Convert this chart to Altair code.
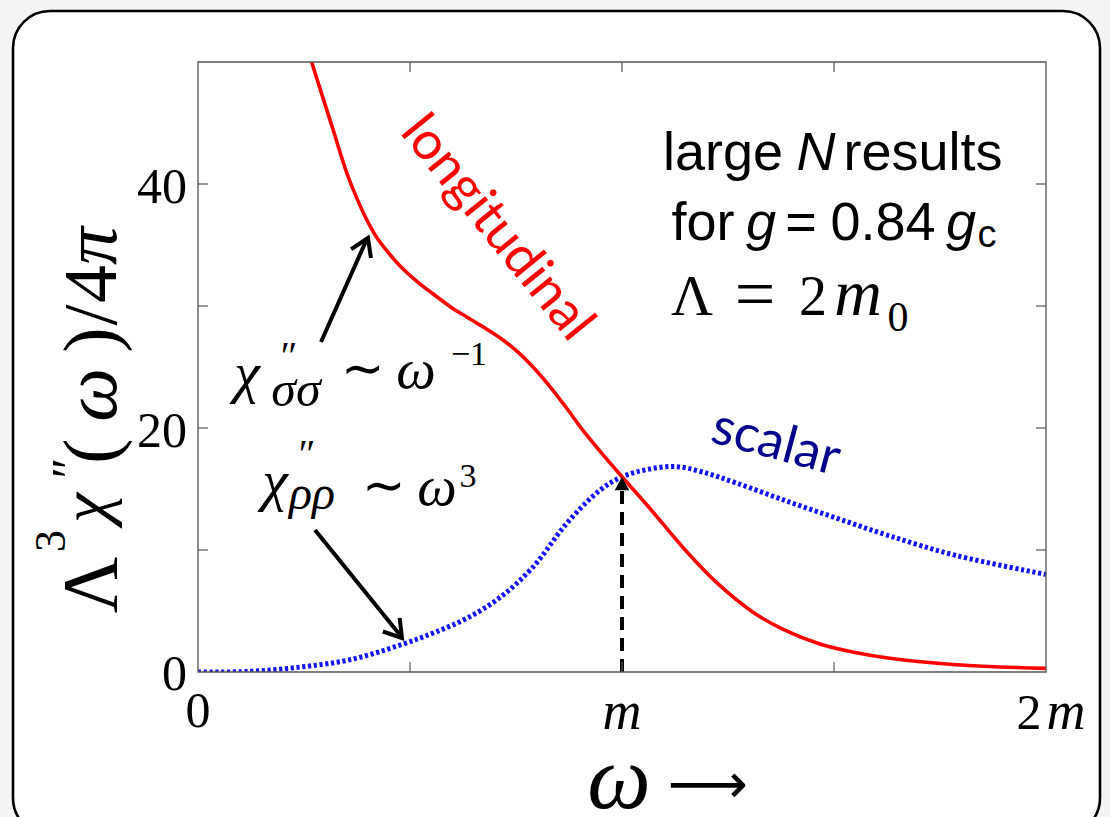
import altair as alt
import pandas as pd

# ---------------- data ----------------
# omega in units of m, response in units of Lambda^3 chi''/4pi
omega_long = [0.268, 0.288, 0.319, 0.351, 0.375, 0.399, 0.422, 0.446, 0.476, 0.517,
              0.554, 0.601, 0.634, 0.672, 0.712, 0.752, 0.79, 0.83, 0.87, 0.908,
              0.948, 1.0, 1.066, 1.149, 1.224, 1.309, 1.38, 1.467, 1.55, 1.627,
              1.788, 2.0]
chi_long = [50.0, 47.8, 44.4, 40.9, 38.8, 37.0, 35.6, 34.5, 33.3, 32.0,
            31.0, 29.8, 29.1, 28.3, 27.4, 26.3, 25.0, 23.4, 21.6, 19.8,
            18.1, 16.0, 13.4, 10.0, 7.3, 4.9, 3.5, 2.3, 1.6, 1.15,
            0.6, 0.3]

omega_scal = [0.0, 0.12, 0.24, 0.358, 0.476, 0.555, 0.634, 0.712, 0.79, 0.87,
              0.948, 1.0, 1.06, 1.125, 1.189, 1.269, 1.389, 1.507, 1.627, 1.788, 2.0]
chi_scal = [0.0, 0.05, 0.4, 1.0, 2.2, 3.2, 4.4, 6.1, 8.6, 12.2,
            14.9, 16.0, 16.6, 16.84, 16.4, 15.5, 14.0, 12.6, 11.2, 9.55, 8.0]

x_ticks = [0.5, 1.0, 1.5]
y_ticks = [10, 20, 30, 40]

# ---------------- geometry of the plot area ----------------
W, H = 848, 610
XMAX, YMAX = 2.0, 50.0
L0, T0 = 198, 62  # page offset of plot area


def gx(px):
    return (px - L0) / W * XMAX


def gy(py):
    """page y -> data value"""
    return (T0 + H - py) / H * YMAX


xs = alt.Scale(domain=[0, XMAX], nice=False, zero=False)
ys = alt.Scale(domain=[0, YMAX], nice=False, zero=False)


def X(f, **kw):
    return alt.X(f, type="quantitative", scale=xs, axis=None, **kw)


def Y(f, **kw):
    return alt.Y(f, type="quantitative", scale=ys, axis=None, **kw)


# ---------------- background card ----------------
card = alt.Chart(pd.DataFrame([{"x": gx(13), "x2": gx(1100), "y": gy(11), "y2": gy(835)}])).mark_rect(
    cornerRadius=37, fill="white", stroke="black", strokeWidth=2.6
).encode(x=X("x"), x2="x2", y=Y("y"), y2="y2")

frame = alt.Chart(pd.DataFrame([{"x": 0.0, "x2": XMAX, "y": 0.0, "y2": YMAX}])).mark_rect(
    fillOpacity=0, stroke="#555555", strokeWidth=1.3
).encode(x=X("x"), x2="x2", y=Y("y"), y2="y2")

tick_len_y = 10 / H * YMAX
tick_len_x = 10 / W * XMAX
tick_rows = []
for t in x_ticks:
    tick_rows.append({"x": t, "x2": t, "y": 0, "y2": tick_len_y})
    tick_rows.append({"x": t, "x2": t, "y": YMAX, "y2": YMAX - tick_len_y})
for t in y_ticks:
    tick_rows.append({"x": 0, "x2": tick_len_x, "y": t, "y2": t})
    tick_rows.append({"x": XMAX, "x2": XMAX - tick_len_x, "y": t, "y2": t})
ticks = alt.Chart(pd.DataFrame(tick_rows)).mark_rule(color="#555555", strokeWidth=1.2).encode(
    x=X("x"), x2="x2", y=Y("y"), y2="y2"
)

# ---------------- curves ----------------
df_long = pd.DataFrame({"w": omega_long, "chi": chi_long})
df_scal = pd.DataFrame({"w": omega_scal, "chi": chi_scal})

red = alt.Chart(df_long).mark_line(
    color="#ff0000", strokeWidth=3.6, interpolate="catmull-rom", clip=True
).encode(x=X("w"), y=Y("chi"))

blue = alt.Chart(df_scal).mark_line(
    color="#1414ff", strokeWidth=5, strokeDash=[3.2, 2.6], interpolate="catmull-rom", clip=True
).encode(x=X("w"), y=Y("chi"))

# ---------------- arrows ----------------
arrow_lines = pd.DataFrame([
    {"x": gx(321), "y": gy(342), "x2": gx(366), "y2": gy(241)},
    {"x": gx(315), "y": gy(530), "x2": gx(400), "y2": gy(635)},
])
arrows = alt.Chart(arrow_lines).mark_rule(color="black", strokeWidth=4).encode(
    x=X("x"), y=Y("y"), x2="x2", y2="y2"
)
heads = alt.Chart(pd.DataFrame([
    {"x": gx(368), "y": gy(238), "ang": 24},
    {"x": gx(402), "y": gy(638), "ang": 141},
])).mark_point(
    shape="M -0.6 0.95 L 0 0 L 0.6 0.95", filled=False, color="black",
    strokeWidth=4, size=1300, opacity=1
).encode(x=X("x"), y=Y("y"), angle=alt.Angle("ang:Q", scale=None))

dash = alt.Chart(pd.DataFrame([{"x": 1.0, "y": 0.0, "y2": gy(490)}])).mark_rule(
    color="black", strokeWidth=4, strokeDash=[13, 8]
).encode(x=X("x"), y=Y("y"), y2="y2")
dash_head = alt.Chart(pd.DataFrame([{"x": 1.0, "y": gy(477)}])).mark_point(
    shape="M -0.55 1 L 0 0 L 0.55 1 Z", filled=True, color="black", size=700, opacity=1
).encode(x=X("x"), y=Y("y"))

# ---------------- texts ----------------
SERIF = "Liberation Serif"
SANS = "Liberation Sans"
CAL = "Lato"
texts = []


def T(text, px, py, size, font=SERIF, style="normal", color="black", angle=0,
      align="center", baseline="alphabetic"):
    texts.append(dict(text=text, x=gx(px), y=gy(py), size=size, font=font, style=style,
                      color=color, angle=angle, align=align, baseline=baseline))


# tick labels
T("40", 187, 203, 50, align="right")
T("20", 187, 447, 50, align="right")
T("0", 187, 690, 50, align="right")
T("0", 198, 727, 50)
T("m", 622, 729, 54, style="italic")
T("2", 1029, 729, 50)
T("m", 1066, 729, 54, style="italic")

# axis titles
T("ω", 619, 808, 90, style="italic")
T("⟶", 708, 803, 56, font="DejaVu Sans")
YB = 116
T("Λ", YB, 585, 78, angle=270)
T("3", 65, 541, 44, angle=270)
T("χ", 108, 508, 68, style="italic", angle=270)
T("″", 86, 468, 50, angle=270)
T("(", YB, 451, 76, angle=270)
T("ω", YB, 395, 76, style="italic", angle=270)
T(")", YB, 340, 76, angle=270)
T("/", YB, 315, 76, angle=270)
T("4", YB, 284, 76, angle=270)
T("π", YB, 246, 76, style="italic", angle=270)

# info block
T("large", 723, 170, 54, font=SANS)
T("N", 816, 170, 54, font=SANS, style="italic")
T("results", 923, 170, 54, font=SANS)
T("for", 703, 240, 54, font=SANS)
T("g", 761, 240, 54, font=SANS, style="italic")
T("=", 801, 240, 54, font=SANS)
T("0.84", 883, 240, 54, font=SANS)
T("g", 961, 240, 54, font=SANS, style="italic")
T("c", 987, 247, 38, font=SANS)
T("Λ", 692, 315, 58)
T("=", 755, 318, 72)
T("2", 813, 315, 56)
T("m", 858, 315, 66, style="italic")
T("0", 898, 331, 42)

# chi_sigma_sigma ~ omega^-1
T("χ", 247, 392, 58, style="italic")
T("″", 289, 369, 40)
T("σσ", 296, 406, 50, style="italic")
T("∼", 363, 386, 52)
T("ω", 416, 388, 56, style="italic")
T("−1", 469, 365, 34)

# chi_rho_rho ~ omega^3
T("χ", 275, 500, 58, style="italic")
T("″", 307, 467, 40)
T("ρρ", 312, 509, 48, style="italic")
T("∼", 384, 503, 52)
T("ω", 437, 505, 56, style="italic")
T("3", 468, 487, 34)

# curve names
T("longitudinal", 497, 228, 53, font=CAL, color="#ff0000", angle=51, baseline="middle")
T("scalar", 776, 443, 52, font=CAL, color="#00008c", angle=15, baseline="middle")

tdf = pd.DataFrame(texts)
text_layers = []
for (font, style, align, baseline), g in tdf.groupby(["font", "style", "align", "baseline"]):
    text_layers.append(
        alt.Chart(g.reset_index(drop=True)).mark_text(
            font=font, fontStyle=style, align=align, baseline=baseline
        ).encode(
            x=X("x"), y=Y("y"), text="text:N",
            size=alt.Size("size:Q", scale=None, legend=None),
            angle=alt.Angle("angle:Q", scale=None),
            color=alt.Color("color:N", scale=None, legend=None),
        )
    )

chart = alt.layer(
    card, blue, red, dash, dash_head, arrows, heads, frame, ticks, *text_layers
).properties(
    width=W, height=H,
    autosize=alt.AutoSizeParams(type="none"),
    padding={"left": L0, "top": T0, "right": 1110 - L0 - W, "bottom": 817 - T0 - H},
    background="#f3f5f5",
).configure_view(strokeWidth=0)

chart.save("out.html", embed_options={"renderer": "svg", "actions": False})
